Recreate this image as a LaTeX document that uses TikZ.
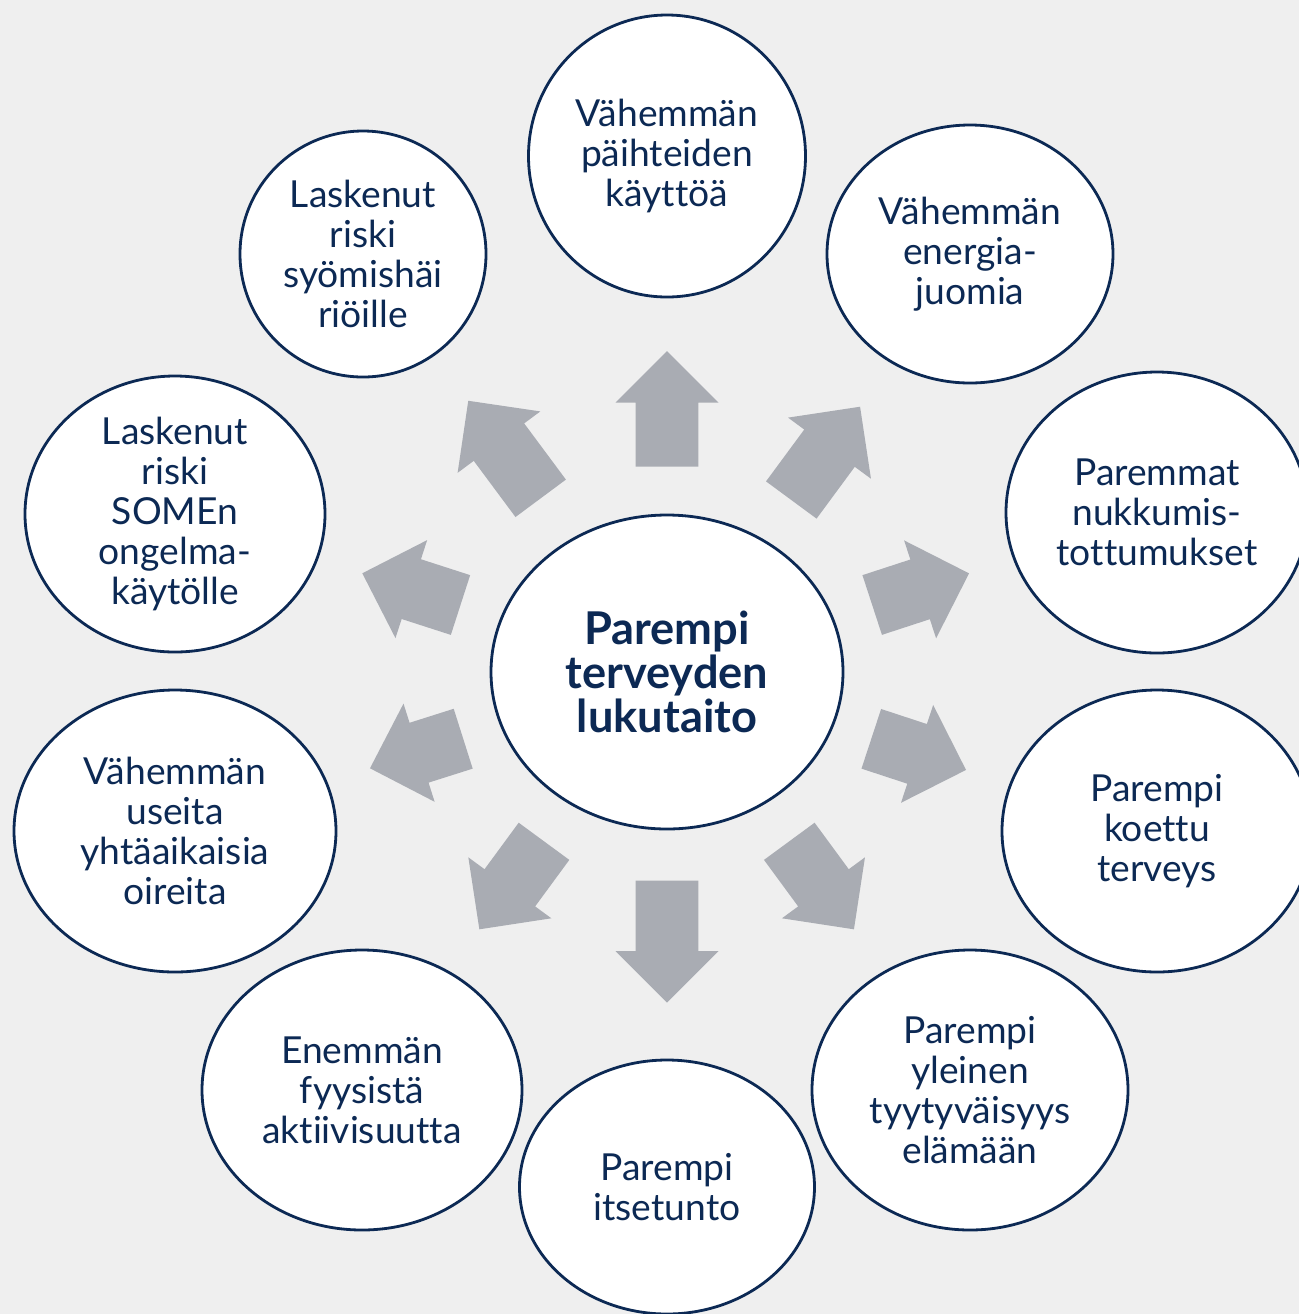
\documentclass[tikz,border=0pt]{standalone}
\usepackage{fontspec}
\setmainfont{Lato}[Ligatures=NoCommon]
\usetikzlibrary{shapes.geometric}
\definecolor{navy}{RGB}{12,41,84}
\definecolor{bggrey}{RGB}{239,239,239}
\definecolor{arrowgrey}{RGB}{169,172,179}
\newcommand\blockarr[4]{%
  \fill[arrowgrey, shift={(#1,#2)}, rotate=#3]
    (0,-31.4) -- (#4,-31.4) -- (#4,-51.5) -- ({#4+51.5},0) -- (#4,51.5) -- (#4,31.4) -- (0,31.4) -- cycle;}
\tikzset{
  bubble/.style args={#1/#2}{ellipse, draw=navy, line width=1.4pt, fill=white,
    inner sep=0pt, minimum width=#1pt, minimum height=#2pt, align=center,
    text=navy, font=\fontsize{18.6}{20}\selectfont},
  hub/.style args={#1/#2}{bubble=#1/#2, font=\fontsize{22.6}{22}\selectfont\bfseries},
}
\begin{document}
\begin{tikzpicture}[x=0.5pt,y=-0.5pt]
\useasboundingbox (0,0) rectangle (1299,1314);
\clip (0,0) rectangle (1299,1314);
\fill[bggrey] (0,0) rectangle (1299,1314);
% arrows
\blockarr{667}{466.7}{90}{64.2}
\blockarr{791.3}{500}{53.6}{64.4}
\blockarr{872.2}{605}{18.1}{50.4}
\blockarr{871.3}{738.8}{-18.2}{48.2}
\blockarr{789.3}{841.3}{-53.7}{57.7}
\blockarr{667}{880.7}{-90}{70.5}
\blockarr{544}{841.3}{233.7}{57.7}
\blockarr{463.2}{738.7}{197.6}{46.3}
\blockarr{460.5}{605}{162.1}{51.7}
\blockarr{540.7}{498.3}{126.6}{70}
% bubbles
\node[hub=176/157] (hub) at (667,672) {Parempi\\terveyden\\lukutaito};
\node[bubble=138.5/141] (paih) at (667,156) {Vähemmän\\päihteiden\\käyttöä};
\node[bubble=143/129] (energ) at (970,254) {Vähemmän\\energia-\\juomia};
\node[bubble=151/140.5] (nukk) at (1157,512.5) {Paremmat\\nukkumis-\\tottumukset};
\node[bubble=155/141] (koet) at (1157,831) {Parempi\\koettu\\terveys};
\node[bubble=158/140] (tyyt) at (970,1090) {Parempi\\yleinen\\tyytyväisyys\\elämään};
\node[bubble=147.5/127] (itse) at (667,1187) {Parempi\\itsetunto};
\node[bubble=160/140] (fyys) at (362,1090) {Enemmän\\fyysistä\\aktiivisuutta};
\node[bubble=161/141] (oire) at (175,831) {Vähemmän\\useita\\yhtäaikaisia\\oireita};
\node[bubble=150/138] (some) at (175,514) {Laskenut\\riski\\SOMEn\\ongelma-\\käytölle};
\node[bubble=123/123] (syom) at (363,254) {Laskenut\\riski\\syömishäi\\riöille};
\end{tikzpicture}
\end{document}
